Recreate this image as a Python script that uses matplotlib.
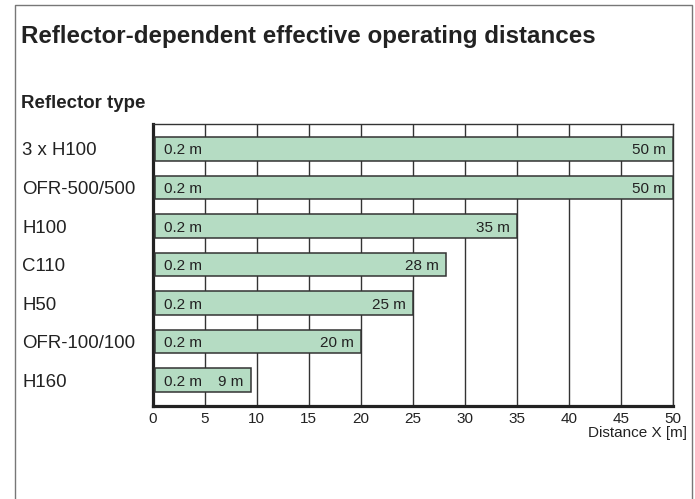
import matplotlib
matplotlib.use("Agg")
import matplotlib.pyplot as plt
from matplotlib.lines import Line2D

plt.rcParams['font.family'] = ['Liberation Sans', 'DejaVu Sans']

categories = ["3 x H100", "OFR-500/500", "H100", "C110", "H50", "OFR-100/100", "H160"]
bar_start = [0.2, 0.2, 0.2, 0.2, 0.2, 0.2, 0.2]
bar_end = [50, 50, 35, 28.2, 25, 20, 9.4]
start_labels = ["0.2 m"] * 7
end_labels = ["50 m", "50 m", "35 m", "28 m", "25 m", "20 m", "9 m"]
xticks = [0, 5, 10, 15, 20, 25, 30, 35, 40, 45, 50]

W, H = 695, 499
fig = plt.figure(figsize=(W / 100, H / 100), dpi=100)
fig.patch.set_facecolor("white")

ax_l, ax_r, ax_t, ax_b = 152.7, 673.0, 123.5, 406.0
ax = fig.add_axes([ax_l / W, 1 - ax_b / H, (ax_r - ax_l) / W, (ax_b - ax_t) / H])

dark = "#333333"
green = "#b5dcc3"
ypos = list(range(len(categories)))
widths = [e - s for s, e in zip(bar_start, bar_end)]
ax.barh(ypos, widths, left=bar_start, height=0.61, color=green,
        edgecolor=dark, linewidth=1.1, zorder=3)

for y, s, e, sl, el in zip(ypos, bar_start, bar_end, start_labels, end_labels):
    ax.annotate(sl, (s, y), xytext=(6.5, 0), textcoords="offset points",
                ha="left", va="center_baseline", fontsize=11, color="#222222", zorder=4)
    ax.annotate(el, (e, y), xytext=(-5, 0), textcoords="offset points",
                ha="right", va="center_baseline", fontsize=11, color="#222222", zorder=4)

ax.set_xlim(0, 50)
ax.set_ylim(6.67, -0.66)
ax.set_xticks(xticks)
ax.set_xticklabels([str(t) for t in xticks], fontsize=11, color="#222222")
ax.set_yticks(ypos)
ax.set_yticklabels(categories, fontsize=13.4, ha="left", color="#222222")
ax.tick_params(axis="y", length=0, pad=(ax_l - 22) * 0.72)
ax.tick_params(axis="x", length=0, pad=4.3)

ax.set_axisbelow(True)
ax.grid(axis="x", color=dark, linewidth=1.0)
ax.grid(axis="y", visible=False)
for side in ["top", "right"]:
    ax.spines[side].set_color(dark)
    ax.spines[side].set_linewidth(1.0)
for side in ["left", "bottom"]:
    ax.spines[side].set_color("#222222")
    ax.spines[side].set_linewidth(2.3)

fig.text(21 / W, 1 - 37 / H, "Reflector-dependent effective operating distances",
         fontsize=17.4, fontweight="bold", ha="left", va="center", color="#222222")
fig.text(21 / W, 1 - 103 / H, "Reflector type",
         fontsize=13.4, fontweight="bold", ha="left", va="center", color="#222222")
fig.text(687 / W, 1 - 433 / H, "Distance X [m]",
         fontsize=11, ha="right", va="center", color="#222222")

bx = [14.5 / W, 14.5 / W, 691.5 / W, 691.5 / W]
by = [-0.05, 1 - 4.5 / H, 1 - 4.5 / H, -0.05]
fig.add_artist(Line2D(bx, by, transform=fig.transFigure, color="#777777", linewidth=1.0))

fig.savefig("out.png", dpi=100)
